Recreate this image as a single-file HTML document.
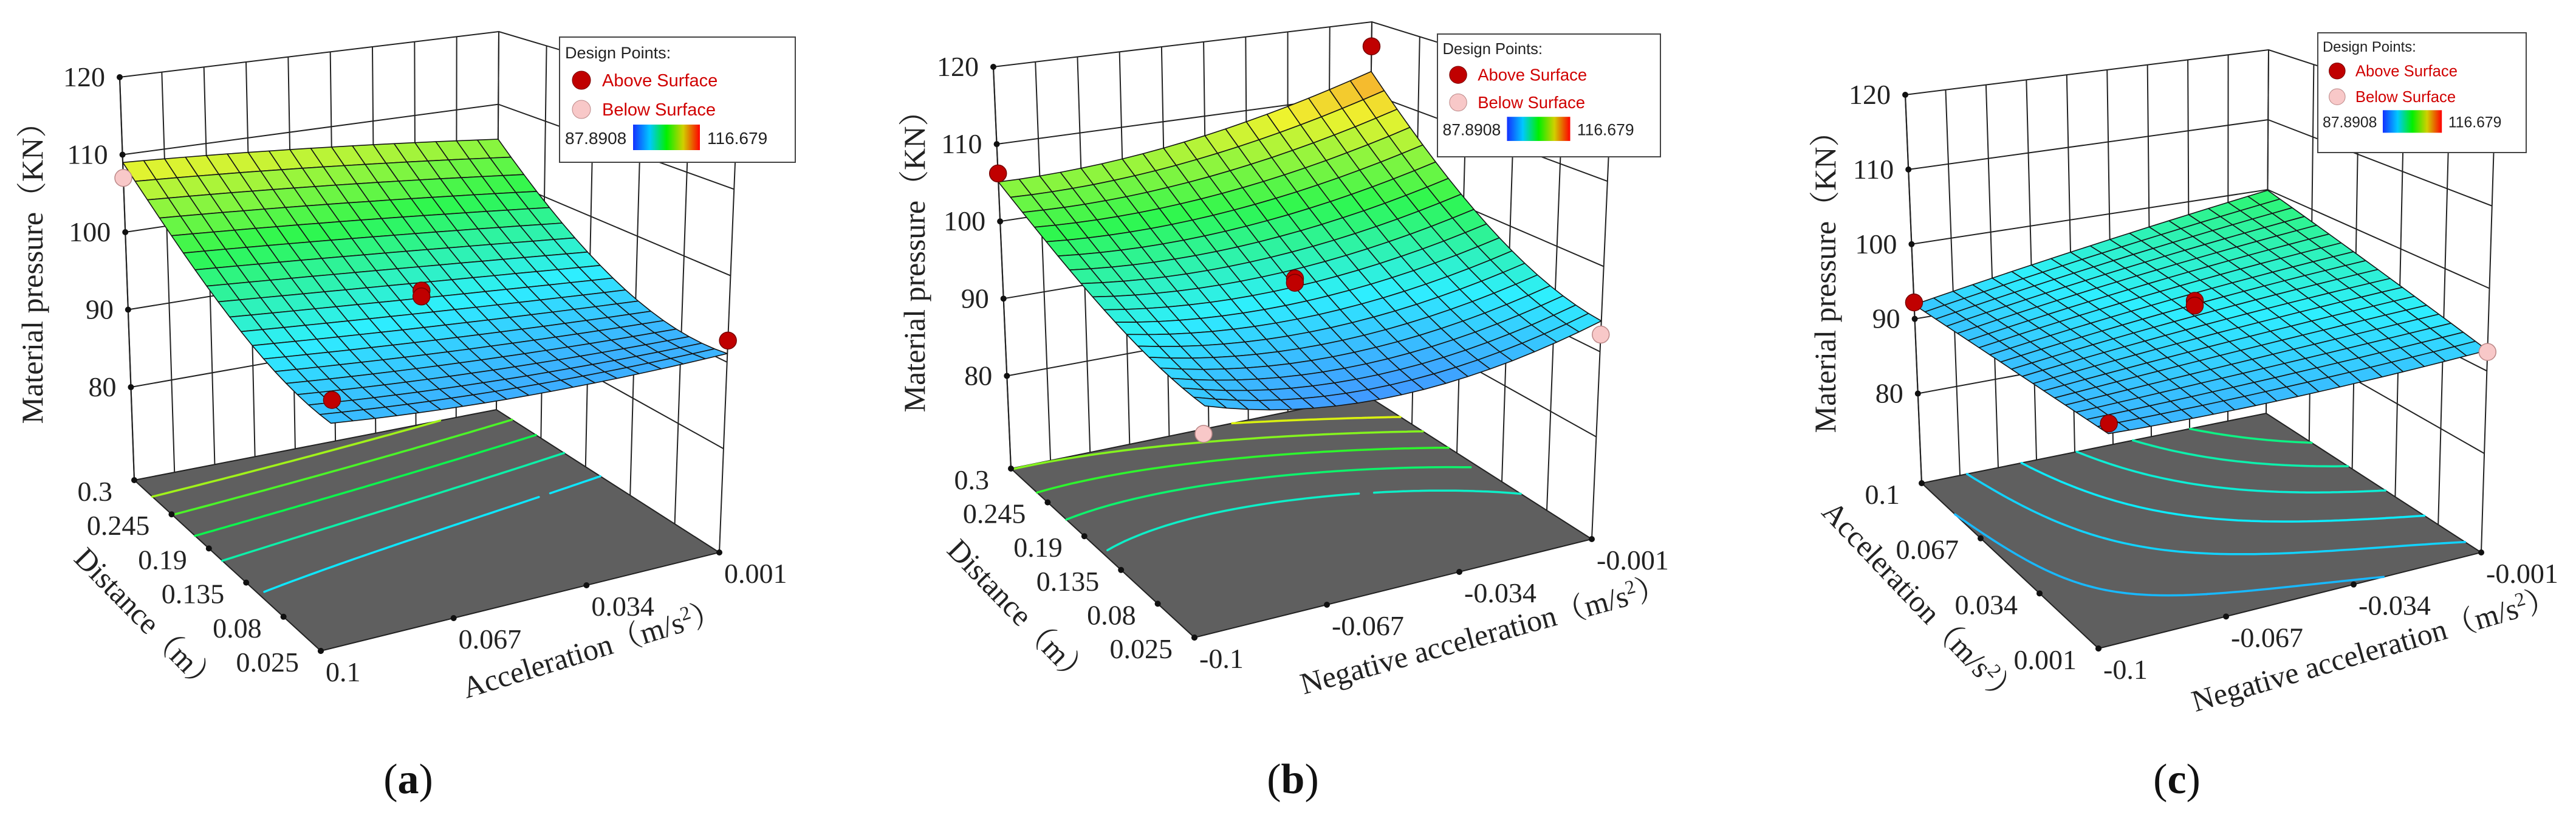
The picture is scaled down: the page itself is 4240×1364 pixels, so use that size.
<!DOCTYPE html>
<html><head><meta charset="utf-8"><title>Response surfaces</title>
<style>
html,body{margin:0;padding:0;background:#fff;}
svg{display:block;}
</style></head>
<body>
<svg id="fig" xmlns="http://www.w3.org/2000/svg" width="4240" height="1364" viewBox="0 0 4240 1364">
<rect x="0" y="0" width="4240" height="1364" fill="#fff"/>
<defs>
<linearGradient id="cbar" x1="0" y1="0" x2="1" y2="0">
<stop offset="0" stop-color="#1430ff"/><stop offset="0.25" stop-color="#00c8ff"/><stop offset="0.5" stop-color="#00f000"/><stop offset="0.75" stop-color="#d0d000"/><stop offset="1" stop-color="#ff0000"/>
</linearGradient>
</defs>
</svg>
<script>
// ---- data (a) ----
const aFront=[91.5,90.5,91.0];
const aMid=[96.5,95.0,93.5];
const aBack=[109.0,107.5,105.2];
const aPtU=[0,0.5,0.5,0,1];
const aPtV=[1,0.5,0.5,0,0];
const aPtZ=[107.0,95.9,95.2,93.9,92.5];
const aPtAbove=[0,1,1,1,1];
const aDepthTicks=['0.025','0.08','0.135','0.19','0.245','0.3'];
const aFrontTicks=['0.1','0.067','0.034','0.001'];
const aLevels=[94,97,100,103,106];
// ---- data (b) ----
const bFront=[92.0,89.3,93.6];
const bMid=[96.0,95.0,99.0];
const bBack=[105.1,106.9,113.1];
const bPtU=[0,1,0.5,0.5,0,1];
const bPtV=[1,1,0.5,0.5,0,0];
const bPtZ=[106.2,116.6,96.0,95.5,89.1,92.0];
const bPtAbove=[1,1,1,1,0,0];
const bDepthTicks=['0.025','0.08','0.135','0.19','0.245','0.3'];
const bFrontTicks=['-0.1','-0.067','-0.034','-0.001'];
const bLevels=[96,99,102,105,108];
// ---- data (c) ----
const cFront=[91.0,91.2,92.5];
const cMid=[91.4,94.0,96.0];
const cBack=[91.9,96.0,99.9];
const cPtU=[0,0.5,0.5,0,1];
const cPtV=[1,0.5,0.5,0,0];
const cPtZ=[92.2,95.9,95.3,92.1,92.3];
const cPtAbove=[1,1,1,1,0];
const cDepthTicks=['0.001','0.034','0.067','0.1'];
const cFrontTicks=['-0.1','-0.067','-0.034','-0.001'];
const cLevels=[91.7,93,94.3,95.6,96.9,98.2];
// ---- shared ----
const zTicks=[80,90,100,110,120];
const cbMin='87.8908', cbMax='116.679';

const SERIF='"Liberation Serif","Noto Serif CJK SC",serif';
const SANS='"Liberation Sans","Noto Sans CJK SC",sans-serif';
const NS='http://www.w3.org/2000/svg';
const svg=document.getElementById('fig');
const Z0=68,Z1=120,CMIN=87.8908,CMAX=116.679;

function make(tag,attrs,parent){const e=document.createElementNS(NS,tag);for(const k in attrs)e.setAttribute(k,attrs[k]);(parent||svg).appendChild(e);return e;}
function L(t){return [2*(t-0.5)*(t-1),-4*t*(t-1),2*t*(t-0.5)];}
function surf(rows,u,v){const lu=L(u),lv=L(v);let s=0;for(let i=0;i<3;i++)for(let j=0;j<3;j++)s+=lv[i]*lu[j]*rows[i][j];return s;}
function bil(a,b,c,d,u,v){return [(1-u)*(1-v)*a[0]+u*(1-v)*b[0]+(1-u)*v*c[0]+u*v*d[0],(1-u)*(1-v)*a[1]+u*(1-v)*b[1]+(1-u)*v*c[1]+u*v*d[1]];}
function P(g,u,v,z){const w=(z-Z0)/(Z1-Z0);const b=bil(g.F00,g.F10,g.F01,g.F11,u,v);const t=bil(g.T00,g.T10,g.T01,g.T11,u,v);return [b[0]+(t[0]-b[0])*w,b[1]+(t[1]-b[1])*w];}
const stops=[[0,[30,100,255]],[0.22,[0,235,255]],[0.45,[0,245,40]],[0.72,[235,240,0]],[1,[255,60,0]]];
function cmap(z,light){let t=Math.max(0,Math.min(1,(z-CMIN)/(CMAX-CMIN)));let i=0;while(i<stops.length-2&&t>stops[i+1][0])i++;const a=stops[i],b=stops[i+1];const f=(t-a[0])/(b[0]-a[0]);let c=a[1].map((x,k)=>x+(b[1][k]-x)*f);if(light)c=c.map(x=>x+(255-x)*light);return 'rgb('+c.map(Math.round).join(',')+')';}
function pts(a){return a.map(p=>p[0].toFixed(1)+','+p[1].toFixed(1)).join(' ');}

function drawPanel(g,rows,ptU,ptV,ptZ,ptAbove,depthTicks,frontTicks,levels,key){
  const grp=make('g',{});
  
  
  const wall=make('g',{stroke:'#222','stroke-width':2,fill:'none'},grp);
  
  
  for(let k=0;k<=9;k++){const a=P(g,k/9,1,Z0),b=P(g,k/9,1,Z1);make('line',{x1:a[0],y1:a[1],x2:b[0],y2:b[1]},wall);}
  for(let k=0;k<=5;k++){const a=P(g,1,k/5,Z0),b=P(g,1,k/5,Z1);make('line',{x1:a[0],y1:a[1],x2:b[0],y2:b[1]},wall);}
  zTicks.forEach(z=>{const a=P(g,0,1,z),b=P(g,1,1,z),c=P(g,1,0,z);make('polyline',{points:pts([a,b,c])},wall);});
  const fl=make('polygon',{points:pts([P(g,0,0,Z0),P(g,1,0,Z0),P(g,1,1,Z0),P(g,0,1,Z0)]),fill:'#5f5f5f',stroke:'#222','stroke-width':2},grp);
  
  
  const N=60;const vals=[];for(let i=0;i<=N;i++){vals.push([]);for(let j=0;j<=N;j++)vals[i].push(surf(rows,j/N,i/N));}
  levels.forEach(lv=>{let d='';
    for(let i=0;i<N;i++)for(let j=0;j<N;j++){
      const c=[[j,i,vals[i][j]],[j+1,i,vals[i][j+1]],[j+1,i+1,vals[i+1][j+1]],[j,i+1,vals[i+1][j]]];const cr=[];
      for(let e=0;e<4;e++){const p=c[e],q=c[(e+1)%4];if((p[2]-lv)*(q[2]-lv)<0){const f=(lv-p[2])/(q[2]-p[2]);cr.push([(p[0]+(q[0]-p[0])*f)/N,(p[1]+(q[1]-p[1])*f)/N]);}}
      for(let k=0;k+1<cr.length;k+=2){const a=P(g,cr[k][0],cr[k][1],Z0),b=P(g,cr[k+1][0],cr[k+1][1],Z0);d+='M'+a[0].toFixed(1)+','+a[1].toFixed(1)+'L'+b[0].toFixed(1)+','+b[1].toFixed(1);}
    }
    if(d){const p=make('path',{d:d,stroke:cmap(lv,0.05),'stroke-width':3.5,fill:'none','stroke-linecap':'round'},grp);
      
      }
  });
  const ax=make('g',{stroke:'#222','stroke-width':2.2,fill:'#111'},grp);
  
  
  const la=P(g,0,1,Z0),lb=P(g,0,1,Z1);make('line',{x1:la[0],y1:la[1],x2:lb[0],y2:lb[1]},ax);
  zTicks.forEach(z=>{const p=P(g,0,1,z);make('circle',{cx:p[0],cy:p[1],r:5,stroke:'none'},ax);});
  depthTicks.forEach((t,k)=>{const p=P(g,0,k/(depthTicks.length-1),Z0);make('circle',{cx:p[0],cy:p[1],r:5,stroke:'none'},ax);});
  frontTicks.forEach((t,k)=>{const p=P(g,k/(frontTicks.length-1),0,Z0);make('circle',{cx:p[0],cy:p[1],r:5,stroke:'none'},ax);});
  const M=18;const quads=[];
  for(let i=0;i<M;i++)for(let j=0;j<M;j++)quads.push([i,j]);
  quads.sort((a,b)=>(b[0]+b[1])-(a[0]+a[1]));
  const sg=make('g',{stroke:'#151515','stroke-width':1.6,'stroke-linejoin':'round'},grp);
  
  
  quads.forEach(([i,j])=>{
    const u0=j/M,u1=(j+1)/M,v0=i/M,v1=(i+1)/M;
    const z00=surf(rows,u0,v0),z10=surf(rows,u1,v0),z11=surf(rows,u1,v1),z01=surf(rows,u0,v1);
    const q=make('polygon',{points:pts([P(g,u0,v0,z00),P(g,u1,v0,z10),P(g,u1,v1,z11),P(g,u0,v1,z01)]),fill:cmap((z00+z10+z11+z01)/4,0.18)},sg);
    
    
  });
  ptZ.forEach((z,k)=>{const p=P(g,ptU[k],ptV[k],z);
    const c=make('circle',{cx:p[0],cy:p[1],r:14,fill:ptAbove[k]?'#c00000':'#f8c8c8',stroke:ptAbove[k]?'#700':'#b88','stroke-width':1.5},grp);
    
    
  });
  zTicks.forEach(z=>{const p=P(g,0,1,z);
    const t=make('text',{x:p[0]-24,y:p[1]+15,'text-anchor':'end','font-size':46,fill:'#222','font-family':SERIF},grp);t.textContent=z;
    
    });
  depthTicks.forEach((s,k)=>{const p=P(g,0,k/(depthTicks.length-1),Z0);
    const t=make('text',{x:p[0]-36,y:p[1]+34,'text-anchor':'end','font-size':46,fill:'#222','font-family':SERIF},grp);t.textContent=s;
    
    });
  frontTicks.forEach((s,k)=>{const p=P(g,k/(frontTicks.length-1),0,Z0);
    const t=make('text',{x:p[0]+8,y:p[1]+50,'text-anchor':'start','font-size':46,fill:'#222','font-family':SERIF},grp);t.textContent=s;
    
    });
  const zt=make('text',{x:g.zl[0],y:g.zl[1]+16,'text-anchor':'middle','font-size':50,fill:'#222','font-family':SERIF,transform:'rotate(-90 '+g.zl[0]+' '+g.zl[1]+')'},grp);
  zt.textContent='Material pressure（KN）';
  
  
  const dt=make('text',{x:g.dl[0],y:g.dl[1]+16,'text-anchor':'middle','font-size':50,fill:'#222','font-family':SERIF,transform:'rotate('+g.dl[2]+' '+g.dl[0]+' '+g.dl[1]+')'},grp);
  dt.innerHTML=g.dlText;
  
  
  const ft=make('text',{x:g.fl[0],y:g.fl[1]+16,'text-anchor':'middle','font-size':50,fill:'#222','font-family':SERIF,transform:'rotate('+g.fl[2]+' '+g.fl[0]+' '+g.fl[1]+')'},grp);
  ft.innerHTML=g.flText;
  
  
  const cap=make('text',{x:g.cap[0],y:g.cap[1]+24,'text-anchor':'middle','font-size':70,fill:'#111','font-family':SERIF},grp);
  cap.innerHTML='(<tspan font-weight="bold">'+key+'</tspan>)';
  
  
  const [lx,ly,lw,lh]=g.leg;const s=lw/388;
  const lg=make('g',{},grp);
  
  
  make('rect',{x:lx,y:ly,width:lw,height:lh,fill:'#fff',stroke:'#444','stroke-width':2},lg);
  const t1=make('text',{x:lx+9*s,y:ly+35*s,'font-size':27*s,fill:'#222','font-family':SANS},lg);t1.textContent='Design Points:';
  
  
  const c1=make('circle',{cx:lx+36*s,cy:ly+71*s,r:15*s,fill:'#c00000',stroke:'#700'},lg);
  
  
  const t2=make('text',{x:lx+70*s,y:ly+81*s,'font-size':29*s,fill:'#d00000','font-family':SANS},lg);t2.textContent='Above Surface';
  
  
  const c2=make('circle',{cx:lx+36*s,cy:ly+119*s,r:15*s,fill:'#f8c8c8',stroke:'#b88'},lg);
  
  
  const t3=make('text',{x:lx+70*s,y:ly+129*s,'font-size':29*s,fill:'#d00000','font-family':SANS},lg);t3.textContent='Below Surface';
  
  
  const t4=make('text',{x:lx+9*s,y:ly+176*s,'font-size':28*s,fill:'#222','font-family':SANS},lg);t4.textContent=cbMin;
  
  
  const cb=make('rect',{x:lx+121*s,y:ly+144*s,width:110*s,height:42*s,fill:'url(#cbar)'},lg);
  
  
  const t5=make('text',{x:lx+243*s,y:ly+176*s,'font-size':28*s,fill:'#222','font-family':SANS},lg);t5.textContent=cbMax;
  
  
}
const sup='<tspan font-size="32" dy="-18">2</tspan><tspan dy="18">）</tspan>';
drawPanel({F00:[528,1071],F10:[1184,909],F01:[221,790],F11:[817,674],T00:[565,242],T10:[1214,169],T01:[197,127],T11:[821,52],
  zl:[54,437],dl:[241,1022,45.5],fl:[975,1069,-17],cap:[672,1281],leg:[921,61,388,206],
  dlText:'Distance（m）',flText:'Acceleration（m/s'+sup},
  [aFront,aMid,aBack],aPtU,aPtV,aPtZ,aPtAbove,aDepthTicks,aFrontTicks,aLevels,'a');
drawPanel({F00:[1966,1049],F10:[2620,887],F01:[1664,771],F11:[2250,651],T00:[2003,223],T10:[2652,158],T01:[1635,110],T11:[2258,36],
  zl:[1506,418],dl:[1677,1009,46],fl:[2442,1045,-15.3],cap:[2128,1281],leg:[2366,56,367,202],
  dlText:'Distance（m）',flText:'Negative acceleration（m/s'+sup},
  [bFront,bMid,bBack],bPtU,bPtV,bPtZ,bPtAbove,bDepthTicks,bFrontTicks,bLevels,'b');
drawPanel({F00:[3454,1067],F10:[4084,909],F01:[3163,795],F11:[3730,680],T00:[3491,268],T10:[4106,203],T01:[3136,156],T11:[3734,82],
  zl:[3005,452],dl:[3161,994,46.4],fl:[3908,1069,-16.2],cap:[3583,1281],leg:[3815,54,343,197],
  dlText:'Acceleration（m/s'+sup,flText:'Negative acceleration（m/s'+sup},
  [cFront,cMid,cBack],cPtU,cPtV,cPtZ,cPtAbove,cDepthTicks,cFrontTicks,cLevels,'c');
</script>
</body></html>
